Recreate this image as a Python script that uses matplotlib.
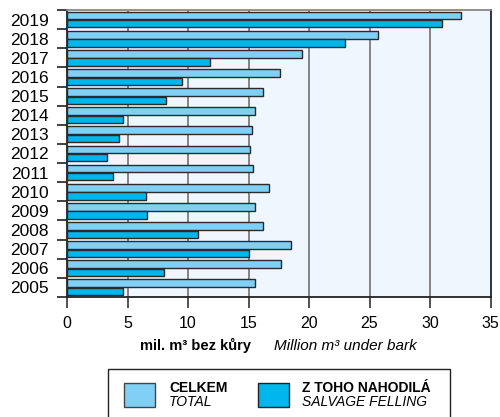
import numpy as np
import matplotlib.pyplot as plt
from matplotlib.patches import Rectangle

plt.rcParams['font.family'] = ['Liberation Sans', 'DejaVu Sans']

years = ['2005', '2006', '2007', '2008', '2009', '2010', '2011', '2012',
         '2013', '2014', '2015', '2016', '2017', '2018', '2019']
total = [15.5, 17.7, 18.5, 16.2, 15.5, 16.7, 15.4, 15.1,
         15.3, 15.5, 16.2, 17.6, 19.4, 25.7, 32.6]
salvage = [4.6, 8.0, 15.0, 10.8, 6.6, 6.5, 3.8, 3.3,
           4.3, 4.6, 8.2, 9.5, 11.8, 23.0, 31.0]
xticks = [0, 5, 10, 15, 20, 25, 30, 35]

c_total = '#80cff5'
c_salv = '#00b6ea'
edge = '#2a2a2a'

fig = plt.figure(figsize=(5.0, 4.17), dpi=100)
ax = fig.add_axes([0.134, 0.288, 0.847, 0.688])
ax.set_facecolor('#eff6fd')

y = np.arange(len(years))
ax.barh(y + 0.21, total, height=0.40, color=c_total, edgecolor=edge,
        linewidth=1.0, zorder=3)
ax.barh(y - 0.22, salvage, height=0.38, color=c_salv, edgecolor=edge,
        linewidth=1.0, zorder=3)

ax.set_xlim(0, 35)
ax.set_ylim(-0.5, len(years) - 0.5)
ax.set_xticks(xticks)
ax.set_xticklabels([str(t) for t in xticks], fontsize=11.5)
ax.set_yticks(y)
ax.set_yticklabels(years, fontsize=12.5)
ax.tick_params(axis='y', length=0, pad=13)
ax.set_yticks(np.arange(-0.5, len(years), 1.0), minor=True)
ax.tick_params(axis='y', which='minor', length=7.5, width=1.2, color='#222222')
ax.tick_params(axis='x', length=8, width=1.2, color='#333333', pad=6)

for xv in xticks[1:-1]:
    ax.axvline(xv, color='#7a7a7a', linewidth=1.3, zorder=1)

for side in ['left', 'bottom', 'right']:
    ax.spines[side].set_color('#222222')
    ax.spines[side].set_linewidth(1.3)
ax.spines['top'].set_color('#888888')
ax.spines['top'].set_linewidth(1.3)

fig.text(0.39, 0.171, 'mil. m\u00b3 bez k\u016fry', fontsize=10.5,
         fontweight='bold', ha='center', va='center')
fig.text(0.548, 0.171, 'Million m\u00b3 under bark', fontsize=11,
         style='italic', ha='left', va='center')

# legend box
fig.patches.append(Rectangle((0.216, -0.01), 0.684, 0.125,
                             transform=fig.transFigure, fill=False,
                             edgecolor='#222222', linewidth=1.0))
fig.patches.append(Rectangle((0.247, 0.025), 0.062, 0.057,
                             transform=fig.transFigure, facecolor=c_total,
                             edgecolor='#444444', linewidth=1.0))
fig.patches.append(Rectangle((0.515, 0.025), 0.062, 0.057,
                             transform=fig.transFigure, facecolor=c_salv,
                             edgecolor='#222222', linewidth=1.0))
fig.text(0.338, 0.07, 'CELKEM', fontsize=10, fontweight='bold', va='center')
fig.text(0.338, 0.035, 'TOTAL', fontsize=10, style='italic', va='center')
fig.text(0.605, 0.07, 'Z TOHO NAHODIL\u00c1', fontsize=10, fontweight='bold',
         va='center')
fig.text(0.605, 0.035, 'SALVAGE FELLING', fontsize=10, style='italic',
         va='center')

fig.savefig('out.png', dpi=100)
